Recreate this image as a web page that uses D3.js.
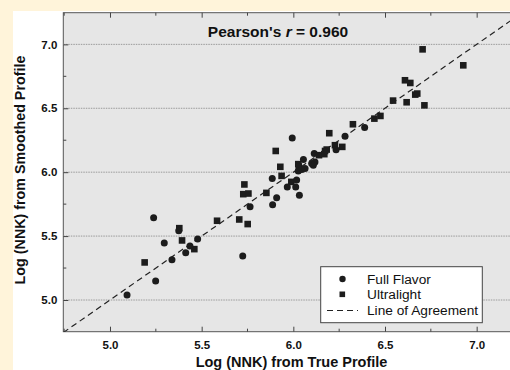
<!DOCTYPE html>
<html><head><meta charset="utf-8">
<script src="https://cdn.jsdelivr.net/npm/d3@7"></script>
<style>
html,body{margin:0;padding:0;background:#FFF4DA;}
svg{display:block;}
text{font-family:"Liberation Sans",Arial,sans-serif;}
</style></head>
<body>
<script>
const fullFlavor = [
 [5.093,5.039],[5.249,5.148],[5.238,5.643],[5.296,5.445],[5.338,5.315],
 [5.375,5.541],[5.413,5.370],[5.436,5.422],[5.478,5.477],[5.724,5.344],
 [5.764,5.729],[5.887,5.745],[5.909,5.799],[5.885,5.951],[5.967,5.885],
 [5.994,6.268],[6.013,5.885],[6.018,5.938],[6.033,5.820],[6.027,6.010],
 [6.046,6.021],[6.064,6.029],[6.055,6.099],[6.100,6.068],[6.118,6.080],
 [6.109,6.055],[6.114,6.146],[6.233,6.176],[6.282,6.281],[6.389,6.349]
];
const ultralight = [
 [5.189,5.294],[5.378,5.562],[5.393,5.466],[5.460,5.398],[5.584,5.620],
 [5.705,5.630],[5.733,5.904],[5.727,5.828],[5.755,5.833],[5.751,5.594],
 [5.853,5.838],[5.904,6.166],[5.929,6.042],[5.936,5.971],[5.989,5.924],
 [6.027,6.063],[6.030,6.045],[6.140,6.133],[6.169,6.141],[6.173,6.166],
 [6.182,6.177],[6.196,6.305],[6.227,6.211],[6.267,6.198],[6.325,6.375],
 [6.442,6.419],[6.475,6.440],[6.544,6.560],[6.609,6.719],[6.638,6.698],
 [6.618,6.547],[6.665,6.607],[6.676,6.615],[6.705,6.961],[6.715,6.523],
 [6.927,6.836]
];
const xTicks = [5.0,5.5,6.0,6.5,7.0];
const yTicks = [5.0,5.5,6.0,6.5,7.0];
const xMinor = [4.75,5.25,5.75,6.25,6.75];
const yMinor = [5.25,5.75,6.25,6.75];
const legendLabels = ["Full Flavor","Ultralight","Line of Agreement"];

const W=510,H=370;
const L=63.3,T=12.7,R=510,B=331.7;
const x=d3.scaleLinear().domain([4.7453,7.1818]).range([L,R]);
const y=d3.scaleLinear().domain([4.752,7.2477]).range([B,T]);

const svg=d3.select("body").append("svg").attr("width",W).attr("height",H);
svg.append("rect").attr("x",13).attr("y",11).attr("width",W-13).attr("height",H-11).attr("fill","#ffffff");
svg.append("rect").attr("x",L).attr("y",T).attr("width",R-L+2).attr("height",B-T).attr("fill","#e6e6e6").attr("stroke","#555").attr("stroke-width",1);

const defs=svg.append("defs");
defs.append("clipPath").attr("id","clip").append("rect").attr("x",L).attr("y",T).attr("width",R-L).attr("height",B-T);

// grid
svg.append("g").selectAll("line").data(yTicks).join("line")
 .attr("x1",L).attr("x2",R).attr("y1",d=>y(d)).attr("y2",d=>y(d))
 .attr("stroke","#9a9a9a").attr("stroke-width",1).attr("stroke-dasharray","1.5,1");

// axes
const gx=svg.append("g").attr("transform",`translate(0,${B})`)
 .call(d3.axisBottom(x).tickValues(xTicks).tickFormat(d3.format(".1f")).tickSize(-5).tickPadding(9));
const gxt=svg.append("g").attr("transform",`translate(0,${T})`)
 .call(d3.axisTop(x).tickValues(xTicks).tickFormat("").tickSize(-5));
const gy=svg.append("g").attr("transform",`translate(${L},0)`)
 .call(d3.axisLeft(y).tickValues(yTicks).tickFormat(d3.format(".1f")).tickSize(-5).tickPadding(6));
[gx,gxt,gy].forEach(g=>{g.select(".domain").remove();g.selectAll("line").attr("stroke","#444");
 g.selectAll("text").attr("font-size",11.5).attr("font-weight","bold").attr("fill","#111").attr("font-family","'Liberation Sans',Arial,sans-serif");});
// minor ticks
svg.append("g").selectAll("line").data(xMinor).join("line")
 .attr("x1",d=>x(d)).attr("x2",d=>x(d)).attr("y1",B).attr("y2",B-3).attr("stroke","#444");
svg.append("g").selectAll("line").data(xMinor).join("line")
 .attr("x1",d=>x(d)).attr("x2",d=>x(d)).attr("y1",T).attr("y2",T+3).attr("stroke","#444");
svg.append("g").selectAll("line").data(yMinor).join("line")
 .attr("x1",L).attr("x2",L+3).attr("y1",d=>y(d)).attr("y2",d=>y(d)).attr("stroke","#444");

// line of agreement
svg.append("line").attr("clip-path","url(#clip)")
 .attr("x1",x(4.7453)).attr("y1",y(4.7453)).attr("x2",x(7.3)).attr("y2",y(7.3))
 .attr("stroke","#222").attr("stroke-width",1.2).attr("stroke-dasharray","6,4");

const col="#1c1c1c";
svg.append("g").selectAll("rect").data(ultralight).join("rect")
 .attr("x",d=>x(d[0])-3.3).attr("y",d=>y(d[1])-3.3).attr("width",6.6).attr("height",6.6).attr("fill",col);
svg.append("g").selectAll("circle").data(fullFlavor).join("circle")
 .attr("cx",d=>x(d[0])).attr("cy",d=>y(d[1])).attr("r",3.5).attr("fill",col);

// title
const t=svg.append("text").attr("x",278).attr("y",37).attr("text-anchor","middle")
 .attr("font-size",15.5).attr("font-weight","bold").attr("fill","#111");
t.append("tspan").text("Pearson's ");
t.append("tspan").attr("font-style","italic").text("r");
t.append("tspan").text(" = 0.960");

// legend
const lg=svg.append("g");
lg.append("rect").attr("x",320.7).attr("y",266.7).attr("width",161.6).attr("height",56).attr("fill","#fff").attr("stroke","#444").attr("stroke-width",1);
lg.append("circle").attr("cx",342.5).attr("cy",279).attr("r",3.2).attr("fill",col);
lg.append("rect").attr("x",339.5).attr("y",291.5).attr("width",5.6).attr("height",5.6).attr("fill",col);
lg.append("line").attr("x1",327).attr("x2",358).attr("y1",310.5).attr("y2",310.5).attr("stroke","#222").attr("stroke-width",1.2).attr("stroke-dasharray","6,4");
lg.selectAll("text").data(legendLabels).join("text")
 .attr("x",367).attr("y",(d,i)=>283.5+i*15.7).attr("font-size",13.7).attr("fill","#111").text(d=>d);

// axis titles
svg.append("text").attr("x",291.5).attr("y",367).attr("text-anchor","middle")
 .attr("font-size",14.5).attr("font-weight","bold").attr("fill","#111").text("Log (NNK) from True Profile");
svg.append("text").attr("transform","translate(25,170) rotate(-90)").attr("text-anchor","middle")
 .attr("font-size",14.3).attr("font-weight","bold").attr("fill","#111").text("Log (NNK) from Smoothed Profile");
</script>
</body></html>
